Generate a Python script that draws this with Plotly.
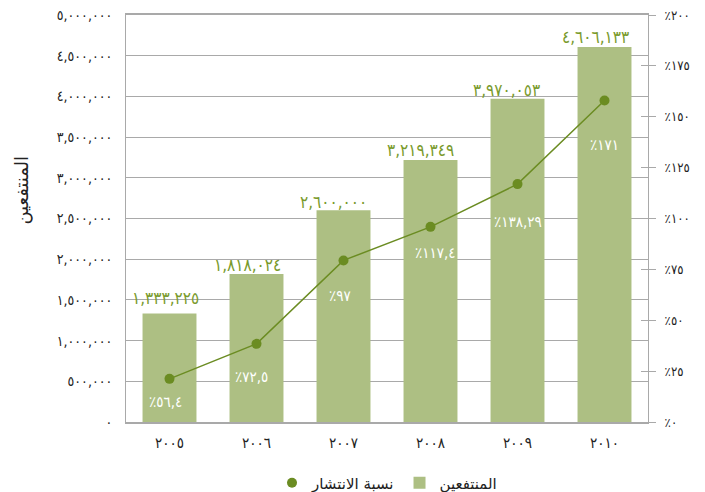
import plotly.graph_objects as go

# ---------------- data ----------------
years = ["٢٠٠٥", "٢٠٠٦", "٢٠٠٧", "٢٠٠٨", "٢٠٠٩", "٢٠١٠"]
beneficiaries = [1333225, 1818024, 2600000, 3219349, 3970053, 4606133]
beneficiary_labels = ["١,٣٣٣,٢٢٥", "١,٨١٨,٠٢٤", "٢,٦٠٠,٠٠٠", "٣,٢١٩,٣٤٩", "٣,٩٧٠,٠٥٣", "٤,٦٠٦,١٣٣"]
spread_points = [21.2, 38.4, 79.4, 95.9, 116.9, 158.0]
spread_labels = ["٪٥٦,٤", "٪٧٢,٥", "٪٩٧", "٪١١٧,٤", "٪١٣٨,٢٩", "٪١٧١"]

left_tick_vals = [0, 500000, 1000000, 1500000, 2000000, 2500000, 3000000, 3500000, 4000000, 4500000, 5000000]
left_tick_text = ["٠", "٥٠٠,٠٠٠", "١,٠٠٠,٠٠٠", "١,٥٠٠,٠٠٠", "٢,٠٠٠,٠٠٠", "٢,٥٠٠,٠٠٠",
                  "٣,٠٠٠,٠٠٠", "٣,٥٠٠,٠٠٠", "٤,٠٠٠,٠٠٠", "٤,٥٠٠,٠٠٠", "٥,٠٠٠,٠٠٠"]
right_tick_vals = [0, 25, 50, 75, 100, 125, 150, 175, 200]
right_tick_text = ["٪٠", "٪٢٥", "٪٥٠", "٪٧٥", "٪١٠٠", "٪١٢٥", "٪١٥٠", "٪١٧٥", "٪٢٠٠"]

name_bars = "المنتفعين"
name_line = "نسبة الانتشار"

# ---------------- styling ----------------
FONT = "DejaVu Sans Condensed, DejaVu Sans, sans-serif"
FONT_WIDE = "DejaVu Sans, sans-serif"
BAR_COLOR = "#adbf83"
LINE_COLOR = "#6b8c22"
LABEL_COLOR = "#799a2c"
GRID = "#a9a9a9"
label_yshift = [-23, -33, -36, -26, -38, -45]
label_xshift = [-4, -5, -4, 5, 0, 0]
value_xshift = [-4, -9, -10, -10, -11, -9]
value_yshift = [15, 9, 8, 10, 9, 10]

fig = go.Figure()

fig.add_trace(go.Scatter(
    x=years, y=spread_points, name=name_line, yaxis="y2",
    mode="lines+markers",
    line=dict(color=LINE_COLOR, width=1.5),
    marker=dict(color=LINE_COLOR, size=10),
    hoverinfo="skip", showlegend=False,
))

# legend proxy: marker only (as in the reference legend)
fig.add_trace(go.Scatter(
    x=[None], y=[None], name=name_line, yaxis="y2", mode="markers",
    marker=dict(color=LINE_COLOR, size=10), showlegend=True,
))

fig.add_trace(go.Bar(
    x=years, y=beneficiaries, name=name_bars,
    marker=dict(color=BAR_COLOR, line=dict(width=0)),
    hoverinfo="skip",
))

# dummy trace to draw inner halves of right ticks
fig.add_trace(go.Scatter(x=[], y=[], yaxis="y3", showlegend=False))

for yr, v, t, xs, ys in zip(years, beneficiaries, beneficiary_labels, value_xshift, value_yshift):
    fig.add_annotation(x=yr, y=v, yref="y", text=t, showarrow=False,
                       yanchor="middle", yshift=ys, xshift=xs,
                       font=dict(color=LABEL_COLOR, size=17, family=FONT))

for yr, v, t, s, xs in zip(years, spread_points, spread_labels, label_yshift, label_xshift):
    fig.add_annotation(x=yr, y=v, yref="y2", text=t, showarrow=False,
                       yshift=s, xshift=xs,
                       font=dict(color="white", size=15, family=FONT))

fig.add_annotation(xref="paper", yref="paper", x=-0.2, y=0.57,
                   xanchor="center", yanchor="middle", textangle=-90,
                   text=name_bars, showarrow=False,
                   font=dict(size=18, color="#222", family=FONT_WIDE))

fig.update_layout(
    width=705, height=492,
    margin=dict(l=126, r=57, t=15, b=70, autoexpand=False),
    paper_bgcolor="white", plot_bgcolor="white",
    font=dict(family=FONT, size=14, color="#222"),
    bargap=0.38,
    showlegend=True,
    legend=dict(orientation="h", x=0.5, xanchor="center", y=-0.15, yanchor="middle",
                font=dict(size=15, color="#222", family=FONT_WIDE), itemwidth=30,
                traceorder="normal"),
    xaxis=dict(showline=True, linecolor=GRID, linewidth=1.5, mirror=True,
               ticks="", tickfont=dict(size=15), ticklabelstandoff=6, automargin=False),
    yaxis=dict(range=[0, 5000000], tickvals=left_tick_vals, ticktext=left_tick_text,
               showgrid=True, gridcolor=GRID, gridwidth=1,
               showline=True, linecolor=GRID, linewidth=1, mirror=True,
               ticks="", ticklabelstandoff=10, zeroline=False, automargin=False,
               tickfont=dict(size=14)),
    yaxis2=dict(range=[0, 200], tickvals=right_tick_vals, ticktext=right_tick_text,
                overlaying="y", side="right", showgrid=False, zeroline=False,
                ticks="outside", ticklen=7, tickcolor=GRID, showline=False,
                ticklabelstandoff=6, tickfont=dict(size=13), automargin=False),
    yaxis3=dict(range=[0, 200], tickvals=right_tick_vals, overlaying="y", side="right",
                showgrid=False, zeroline=False, ticks="inside", ticklen=7, automargin=False,
                tickcolor=GRID, showticklabels=False, showline=False),
)

fig.write_html("out.html", config={"displayModeBar": False},
               post_script="document.body.style.margin='0';document.body.style.overflow='hidden';")
